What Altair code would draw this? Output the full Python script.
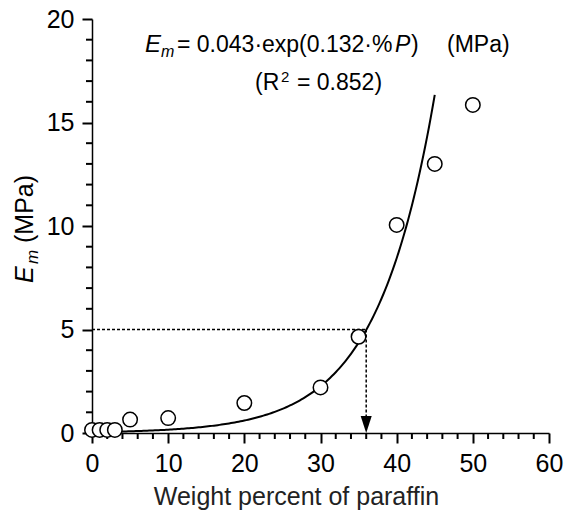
import altair as alt
import pandas as pd

paraffin_pct = [0, 1, 2, 3, 5, 10, 20, 30, 35, 40, 45, 50]
modulus_mpa = [0.15, 0.15, 0.15, 0.15, 0.65, 0.72, 1.45, 2.2, 4.65, 10.05, 13.0, 15.85]

fit_a = 0.043
fit_b = 0.132
fit_p_start = 0.0
fit_p_end = 45.0

target_em = 5.0
target_p = 36.0
arrow_base_em = 0.8

x_major_ticks = [0, 10, 20, 30, 40, 50, 60]
x_minor_ticks = [v for v in range(0, 61, 2) if v % 10 != 0]
y_major_ticks = [0, 5, 10, 15, 20]
y_minor_ticks = [v for v in range(0, 21, 1) if v % 5 != 0]

W, H = 457, 414
FONT = "Liberation Sans"
MAJOR_LEN, MINOR_LEN = 10, 6

pts = pd.DataFrame({"P": paraffin_pct, "Em": modulus_mpa})
hline = pd.DataFrame({"P": [0.0], "P2": [target_p], "Em": [target_em]})
vline = pd.DataFrame({"P": [target_p], "Em": [target_em], "Em2": [arrow_base_em]})
arrow = pd.DataFrame({"P": [target_p], "Em": [0.0]})

x_scale = alt.Scale(domain=[0, 60], nice=False, zero=False)
y_scale = alt.Scale(domain=[0, 20], nice=False, zero=False)

x_axis = alt.Axis(
    orient="bottom", values=x_major_ticks, ticks=True, tickSize=MAJOR_LEN,
    tickColor="black", tickWidth=2, tickOpacity=1,
    labelPadding=8, labelOverlap=False, labelFlush=False,
    title="Weight percent of paraffin", titleX=204, titleY=71,
    titleAlign="center", titleBaseline="alphabetic",
)
y_axis = alt.Axis(
    orient="left", values=y_major_ticks, ticks=True, tickSize=MAJOR_LEN,
    tickColor="black", tickWidth=2, tickOpacity=1,
    labelPadding=8, labelOverlap=False, labelFlush=False, title=None,
)

X_none = alt.X("P:Q", scale=x_scale, axis=None)
Y_none = alt.Y("Em:Q", scale=y_scale, axis=None)

curve = (
    alt.Chart(alt.sequence(fit_p_start, fit_p_end + 0.01, 0.25, as_="P"))
    .transform_calculate(Em=f"{fit_a} * exp({fit_b} * datum.P)")
    .mark_line(color="black", strokeWidth=2)
    .encode(
        x=alt.X("P:Q", scale=x_scale, axis=x_axis),
        y=alt.Y("Em:Q", scale=y_scale, axis=y_axis),
    )
)

# minor ticks: short bars drawn from the minor tick lists
x_minor_layer = (
    alt.Chart(pd.DataFrame({"P": [float(v) for v in x_minor_ticks]}))
    .mark_rule(color="black", strokeWidth=2, opacity=1)
    .encode(x=X_none, y=alt.value(H), y2=alt.value(H + MINOR_LEN))
)
y_minor_layer = (
    alt.Chart(pd.DataFrame({"Em": [float(v) for v in y_minor_ticks]}))
    .mark_rule(color="black", strokeWidth=2, opacity=1)
    .encode(y=Y_none, x=alt.value(-MINOR_LEN), x2=alt.value(0))
)

h_rule = (
    alt.Chart(hline)
    .mark_rule(color="black", strokeWidth=1.5, strokeDash=[3, 2])
    .encode(x=X_none, x2="P2:Q", y=Y_none)
)
v_rule = (
    alt.Chart(vline)
    .mark_rule(color="black", strokeWidth=1.5, strokeDash=[3, 2])
    .encode(x=X_none, y=Y_none, y2="Em2:Q")
)
arrow_head = (
    alt.Chart(arrow)
    .mark_point(shape="M-0.65,-2L0.65,-2L0,0Z", size=289, filled=True, color="black", opacity=1)
    .encode(x=X_none, y=Y_none)
)

points = (
    alt.Chart(pts)
    .mark_point(shape="circle", filled=True, fill="white", stroke="black", strokeWidth=1.5, size=210, opacity=1)
    .encode(x=X_none, y=Y_none)
)


def label(text, x, y, size, italic=False, angle=0):
    return (
        alt.Chart(alt.Data(values=[{}]))
        .mark_text(
            text=text, align="left", baseline="alphabetic", font=FONT,
            fontSize=size, fontStyle="italic" if italic else "normal",
            angle=angle, color="black",
        )
        .encode(x=alt.value(x), y=alt.value(y))
    )


EQ = 23
texts = [
    label("E", 53, 33, EQ + 1, italic=True),
    label("m", 69, 38, 16, italic=True),
    label("= 0.043·exp(0.132·%", 85, 33, EQ),
    label("P", 303, 33, EQ, italic=True),
    label(")", 319, 33, EQ),
    label("(MPa)", 355, 33, EQ),
    label("(R", 163, 71, EQ),
    label("2", 189, 63, 15),
    label("= 0.852)", 205, 71, EQ),
    label("E", -59, 264, 25, italic=True, angle=270),
    label("m", -54, 245, 17, italic=True, angle=270),
    label("(MPa)", -59, 224, 25, angle=270),
]

chart = (
    alt.layer(curve, x_minor_layer, y_minor_layer, h_rule, v_rule, arrow_head, points, *texts)
    .resolve_axis(x="independent", y="independent")
    .properties(
        width=W,
        height=H,
        autosize="none",
        padding={"left": 92, "top": 19, "right": 19, "bottom": 84},
        background="white",
    )
    .configure_view(stroke=None)
    .configure_axis(
        grid=False,
        domainColor="black",
        domainWidth=1.5,
        labelFont=FONT,
        labelFontSize=25,
        labelColor="black",
        titleFont=FONT,
        titleFontSize=25,
        titleFontWeight="normal",
        titleColor="#222222",
    )
)

chart.save("out.html", embed_options={"renderer": "svg", "actions": False})
